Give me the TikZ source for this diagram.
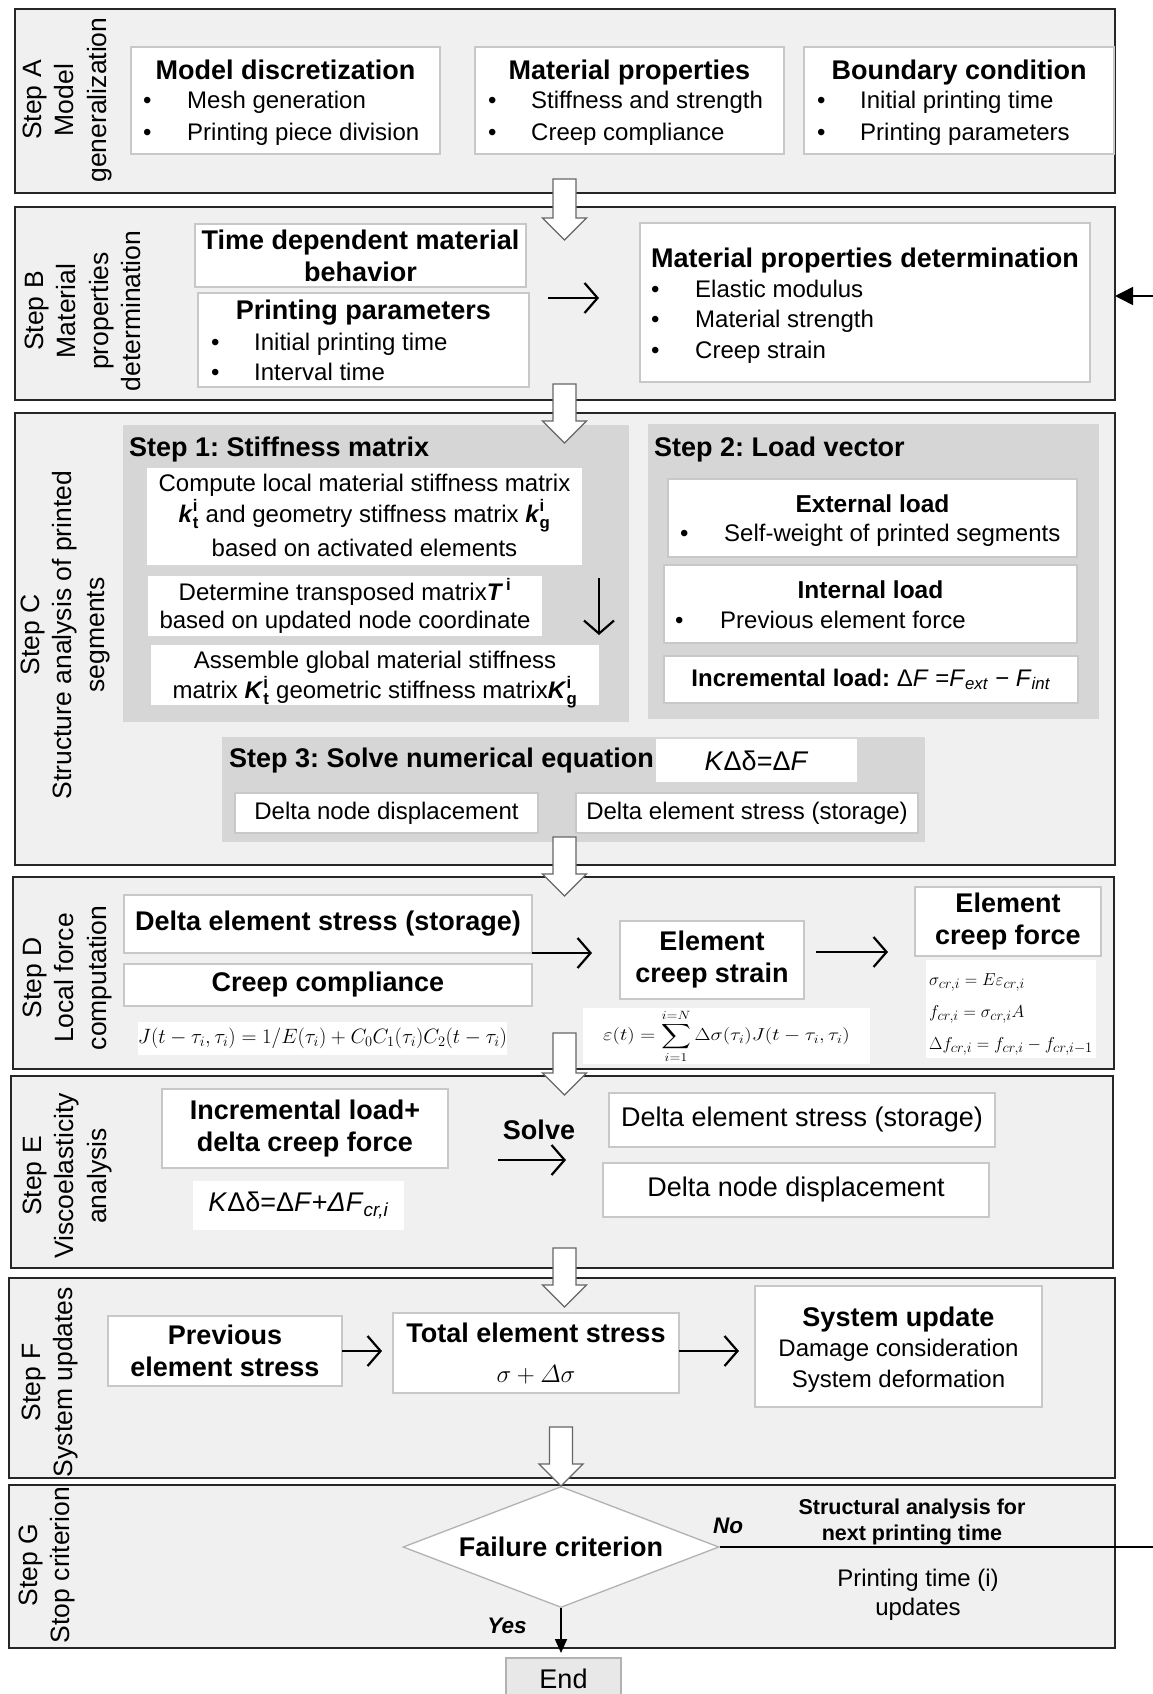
\documentclass[tikz,border=0pt]{standalone}
\usepackage{amsmath}
\usepackage{fontspec}
\setmainfont{Liberation Sans}
\usetikzlibrary{arrows.meta,shapes.geometric}
\frenchspacing
\definecolor{stepfill}{HTML}{F0F0F0}
\definecolor{subfill}{HTML}{D6D6D6}
\definecolor{bxline}{HTML}{C8C8C8}
\definecolor{endfill}{HTML}{E8E8E8}
\newcommand\ftitle{\fontsize{27}{32}\selectfont\bfseries}
\newcommand\fsubt{\fontsize{24.5}{29}\selectfont\bfseries}
\newcommand\fbody{\fontsize{24}{30}\selectfont}
\newcommand\fbig{\fontsize{27}{32}\selectfont}
\newcommand\flabel{\fontsize{26.5}{32.5}\selectfont}
\newcommand\fsmallb{\fontsize{21.5}{26}\selectfont\bfseries}
\newcommand\fsig{\fontsize{19}{23}\selectfont}
\newcommand\rbox[7][]{\node[#1, inner sep=0pt, outer sep=0pt, minimum width={#4-#2}, minimum height={#5-#3}] (#6) at ({(#2+#4)/2},{(#3+#5)/2}) {#7};}
\newcommand\bitem[5]{\node[anchor=base west, inner sep=0pt] (#1b) at ({#2},{#4+8.5}) {\fbody\textbullet};
  \node[anchor=base west, inner sep=0pt] (#1) at ({#3},{#4+8.5}) {\fbody #5};}
\newcommand\kk[2]{$\textbf{\textit{#1}}_{\textbf{#2}}^{\textbf{i}}$}
\newcommand\harrow[3]{\draw[hollow] ({#1-11.5},{#2}) -- ({#1+11.5},{#2}) -- ({#1+11.5},{#3-22}) -- ({#1+22},{#3-22}) -- ({#1},{#3}) -- ({#1-22},{#3-22}) -- ({#1-11.5},{#3-22}) -- cycle;}
\begin{document}
\begin{tikzpicture}[x=1pt,y=-1pt,
 stepbox/.style={draw=black!85, line width=1.8pt, fill=stepfill},
 wbox/.style={draw=bxline, line width=1.4pt, fill=white},
 nbox/.style={fill=white},
 subbox/.style={fill=subfill},
 arr/.style={line width=2.2pt, -{Straight Barb[length=13pt,width=30pt,line width=2.2pt]}},
 hollow/.style={draw=black!60, fill=white, line width=1.3pt},
 lab/.style={rotate=90, align=center, inner sep=0pt, font=\flabel},
 tx/.style={anchor=base, inner sep=0pt},
 txl/.style={anchor=base west, inner sep=0pt}]

\clip (0,0) rectangle (1153,1694);
\fill[white] (0,0) rectangle (1153,1694);

% step frames
\rbox[stepbox]{15}{9}{1115}{193}{stepA}{}
\rbox[stepbox]{15}{207}{1115}{400}{stepB}{}
\rbox[stepbox]{15}{413}{1115}{865}{stepC}{}
\rbox[stepbox]{13}{877}{1114}{1069}{stepD}{}
\rbox[stepbox]{11}{1076}{1113}{1268}{stepE}{}
\rbox[stepbox]{9}{1278}{1115}{1478}{stepF}{}
\rbox[stepbox]{9}{1485}{1115}{1648}{stepG}{}

% side labels
\node[lab] (labA) at (67,100) {Step A\\Model\\generalization};
\node[lab] (labB) at (83,311) {Step B\\Material\\properties\\determination};
\node[lab] (labC) at (65,635) {Step C\\Structure analysis of printed\\segments};
\node[lab] (labD) at (67,978) {Step D\\Local force\\computation};
\node[lab] (labE) at (67,1176) {Step E\\Viscoelasticity\\analysis};
\node[lab] (labF) at (50,1382) {Step F\\System updates};
\node[lab] (labG) at (47,1565) {Step G\\Stop criterion};

% Step A
\rbox[wbox]{131}{47}{440}{154}{md}{}
\node[tx] (mdT) at (285.5,79.5) {\ftitle Model discretization};
\bitem{mdA}{143}{187}{100}{Mesh generation}
\bitem{mdB}{143}{187}{132}{Printing piece division}
\rbox[wbox]{475}{47}{784}{154}{mp}{}
\node[tx] (mpT) at (629.5,79.5) {\ftitle Material properties};
\bitem{mpA}{488}{531}{100}{Stiffness and strength}
\bitem{mpB}{488}{531}{132}{Creep compliance}
\rbox[wbox]{804}{47}{1114}{154}{bc}{}
\node[tx] (bcT) at (959,79.5) {\ftitle Boundary condition};
\bitem{bcA}{817}{860}{100}{Initial printing time}
\bitem{bcB}{817}{860}{132}{Printing parameters}

% Step B
\rbox[wbox, align=center, font=\ftitle]{195}{224}{526}{287}{tdm}{Time dependent material\\behavior}
\rbox[wbox]{198}{293}{529}{387}{pp}{}
\node[tx] (ppT) at (363.5,319.5) {\ftitle Printing parameters};
\bitem{ppA}{211}{254}{342}{Initial printing time}
\bitem{ppB}{211}{254}{372}{Interval time}
\rbox[wbox]{640}{223}{1090}{382}{mpd}{}
\node[tx] (mpdT) at (865,267.5) {\ftitle Material properties determination};
\bitem{mpdA}{651}{695}{289}{Elastic modulus}
\bitem{mpdB}{651}{695}{319}{Material strength}
\bitem{mpdC}{651}{695}{350}{Creep strain}
\coordinate (bArrS) at (548,298);
\coordinate (bArrE) at (599,298);
\draw[arr] (bArrS) -- (bArrE);

% Step C
\rbox[subbox]{123}{425}{629}{722}{sOne}{}
\rbox[subbox]{648}{424}{1099}{719}{sTwo}{}
\rbox[subbox]{222}{737}{925}{842}{sThree}{}
\node[txl] (sOneT) at (129,456.5) {\ftitle Step 1: Stiffness matrix};
\node[txl] (sTwoT) at (654,456.5) {\ftitle Step 2: Load vector};
\rbox[nbox]{147}{468}{582}{565}{cmp}{}
\node[tx] (cmpA) at (364.5,491.5) {\fbody Compute local material stiffness matrix};
\node[tx] (cmpB) at (364.5,522.5) {\fbody \kk{k}{t} and geometry stiffness matrix \kk{k}{g}};
\node[tx] (cmpC) at (364.5,556.5) {\fbody based on activated elements};
\rbox[nbox]{148}{576}{542}{636}{det}{}
\node[tx] (detA) at (345,600.5) {\fbody Determine transposed matrix$\textbf{\textit{T}}^{\,\textbf{i}}$};
\node[tx] (detB) at (345,628.5) {\fbody based on updated node coordinate};
\rbox[nbox]{151}{645}{599}{705}{asm}{}
\node[tx] (asmA) at (375,668.5) {\fbody Assemble global material stiffness};
\node[tx] (asmB) at (375,698.5) {\fbody matrix \kk{K}{t} geometric stiffness matrix\kk{K}{g}};
\coordinate (dArrS) at (599,578);
\coordinate (dArrE) at (599,635);
\draw[arr] (dArrS) -- (dArrE);

\rbox[wbox]{668}{479}{1077}{557}{ext}{}
\node[tx] (extT) at (872.5,512) {\fsubt External load};
\bitem{extA}{680}{724}{533}{Self-weight of printed segments}
\rbox[wbox]{664}{565}{1077}{643}{int}{}
\node[tx] (intT) at (870.5,598.5) {\fsubt Internal load};
\bitem{intA}{675}{720}{620}{Previous element force}
\rbox[wbox]{664}{656}{1078}{703}{inc}{\fbody\textbf{Incremental load:} Δ\textit{F} =\textit{F}\textsubscript{\textit{ext}} − \textit{F}\textsubscript{\textit{int}}}

\node[txl] (sThreeT) at (229,767.5) {\ftitle Step 3: Solve numerical equation};
\rbox[nbox]{656}{739}{857}{782}{kd}{\fbig\textit{K}Δδ=Δ\textit{F}}
\rbox[wbox]{235}{793}{538}{833}{dnd}{\fbody Delta node displacement}
\rbox[wbox]{576}{793}{918}{833}{des}{\fbody Delta element stress (storage)}

% Step D
\rbox[wbox]{124}{895}{532}{953}{dsb}{\ftitle Delta element stress (storage)}
\rbox[wbox]{124}{964}{532}{1006}{cc}{\ftitle Creep compliance}
\rbox[nbox]{138}{1022}{507}{1055}{jf}{\fontsize{21.5}{25}\selectfont $J(t-\tau_i,\tau_i)=1/E(\tau_i)+C_0C_1(\tau_i)C_2(t-\tau_i)$}
\rbox[wbox, align=center, font=\ftitle]{620}{921}{804}{999}{ecs}{Element\\creep strain}
\rbox[wbox, align=center, font=\ftitle]{915}{887}{1101}{956}{ecf}{Element\\creep force}
\rbox[nbox]{583}{1008}{870}{1064}{ef}{\fontsize{18.5}{22}\selectfont\scalebox{1.2}[1]{$\displaystyle \varepsilon(t)=\sum_{i=1}^{i=N}\Delta\sigma(\tau_i)J(t-\tau_i,\tau_i)$}}
\rbox[nbox]{926}{960}{1096}{1058}{sf}{}
\node[txl] (sfA) at (929,985) {\fsig $\sigma_{cr,i}=E\varepsilon_{cr,i}$};
\node[txl] (sfB) at (929,1017) {\fsig $f_{cr,i}=\sigma_{cr,i}A$};
\node[txl] (sfC) at (929,1049) {\fsig $\Delta f_{cr,i}=f_{cr,i}-f_{cr,i-1}$};
\draw[arr, shorten >=28pt] (dsb.south east) -- (ecs.west |- dsb.south east);
\draw[arr, shorten <=12pt, shorten >=27pt] ([yshift=8pt]ecs.east) -- ([yshift=8pt]ecs.east -| ecf.west);

% Step E
\rbox[wbox, align=center, font=\ftitle]{162}{1089}{448}{1168}{il}{Incremental load+\\delta creep force}
\rbox[nbox]{193}{1181}{404}{1230}{kdB}{\fbig\textit{K}Δδ=Δ\textit{F}+\textit{ΔF}\textsubscript{\textit{cr,i}}}
\node[tx] (solve) at (539,1139.5) {\ftitle Solve};
\rbox[wbox]{609}{1093}{995}{1147}{desB}{\fbig Delta element stress (storage)}
\rbox[wbox]{603}{1163}{989}{1217}{dndB}{\fbig Delta node displacement}
\draw[arr, shorten <=50pt, shorten >=43pt] ([yshift=-31.5pt]il.east) -- ([yshift=-31.5pt]il.east -| desB.west);

% Step F
\rbox[wbox, align=center, font=\ftitle]{108}{1316}{342}{1386}{pes}{Previous\\element stress}
\rbox[wbox]{393}{1313}{679}{1393}{tes}{}
\node[tx] (tesT) at (536,1342.5) {\ftitle Total element stress};
\node[tx] (tesF) at (536,1382) {\fontsize{30}{34}\selectfont $\sigma+\varDelta\sigma$};
\rbox[wbox]{755}{1286}{1042}{1407}{su}{}
\node[tx] (suT) at (898.5,1326.5) {\ftitle System update};
\node[tx] (suA) at (898.5,1356.5) {\fbody Damage consideration};
\node[tx] (suB) at (898.5,1387.5) {\fbody System deformation};
\draw[arr, shorten >=11pt] (pes.east) -- (tes.west |- pes.east);
\draw[arr, shorten >=16pt] (tes.east |- pes.east) -- (su.west |- pes.east);

% Step G
\node[diamond, draw=black!30, fill=white, line width=1.3pt, minimum width=316pt, minimum height=121pt, aspect=2.6, inner sep=0pt] (fc) at (561,1547) {\ftitle Failure criterion};
\node[tx] (no) at (728,1533) {\fontsize{22.5}{26}\selectfont\bfseries\itshape No};
\node[tx] (saA) at (912,1514.5) {\fsmallb Structural analysis for};
\node[tx] (saB) at (912,1540.5) {\fsmallb next printing time};
\node[tx] (ptA) at (918,1586.5) {\fbody Printing time (i)};
\node[tx] (ptB) at (918,1615.5) {\fbody updates};
\node[tx] (yes) at (507,1633) {\fontsize{22.5}{26}\selectfont\bfseries\itshape Yes};
\rbox[draw=black!30, line width=1.3pt, fill=endfill]{506}{1658}{621}{1712}{endb}{}
\node[tx] (endT) at (563.5,1688) {\fbig End};
\draw[line width=1.8pt, -{Triangle[length=14pt,width=12pt]}, shorten >=5pt] (fc.south) -- (fc.south |- endb.north);

% hollow arrows between steps
\harrow{564.5}{179}{240}
\harrow{564.5}{384}{443}
\harrow{564.5}{837}{896}
\harrow{564.5}{1033}{1095}
\harrow{564.5}{1248}{1307}
\harrow{561}{1427}{1486}

% feedback loop
\coordinate (bIn) at (1115,296);
\coordinate (loopR) at (1175,0);
\draw[line width=1.6pt, -{Triangle[length=18pt,width=18pt]}] (fc.east) -- (fc.east -| loopR) -- (loopR |- bIn) -- (bIn);
\end{tikzpicture}
\end{document}
